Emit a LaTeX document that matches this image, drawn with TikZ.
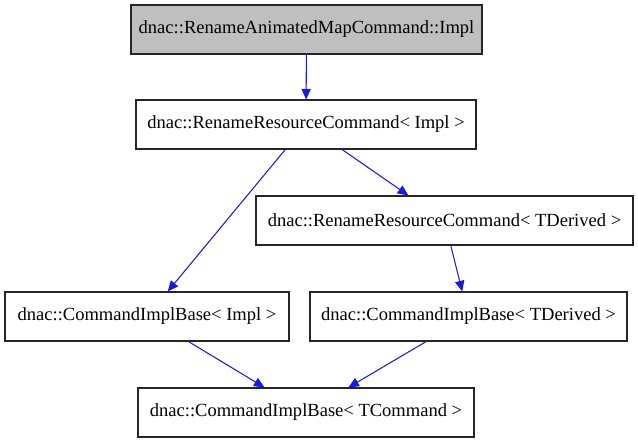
\documentclass[tikz,border=0pt]{standalone}
\usepackage{fontspec}
\setmainfont{Liberation Serif}
\usetikzlibrary{arrows.meta}
\definecolor{edgeblue}{RGB}{28,28,214}
\definecolor{boxgray}{RGB}{191,191,191}
\tikzset{
  cls/.style={draw=black!85, line width=0.8pt, fill=white, inner sep=0pt, minimum height=49*0.75pt, font=\fontsize{13.9pt}{16pt}\selectfont, anchor=center},
  inh/.style={draw=edgeblue, line width=0.8pt, -{Triangle[length=8pt,width=7pt]}}
}
\begin{document}
\begin{tikzpicture}[x=0.75pt,y=-0.75pt]
\useasboundingbox (0,0) rectangle (638,443);
\node[cls, fill=boxgray, minimum width=351*0.75pt] (n1) at (306.5,29.5) {dnac::RenameAnimatedMapCommand::Impl};
\node[cls, minimum width=340*0.75pt] (n2) at (306,124.5) {dnac::RenameResourceCommand< Impl >};
\node[cls, minimum width=377*0.75pt] (n3) at (444.5,220.5) {dnac::RenameResourceCommand< TDerived >};
\node[cls, minimum width=284*0.75pt] (n4) at (147,316.5) {dnac::CommandImplBase< Impl >};
\node[cls, minimum width=317*0.75pt] (n5) at (468.5,316.5) {dnac::CommandImplBase< TDerived >};
\node[cls, minimum width=336*0.75pt] (n6) at (306,412.5) {dnac::CommandImplBase< TCommand >};
\draw[inh] (n1) -- (n2);
\draw[inh] (n2) -- (n4);
\draw[inh] (n2) -- (n3);
\draw[inh] (n3) -- (n5);
\draw[inh] (n4) -- (n6);
\draw[inh] (n5) -- (n6);
\end{tikzpicture}
\end{document}
